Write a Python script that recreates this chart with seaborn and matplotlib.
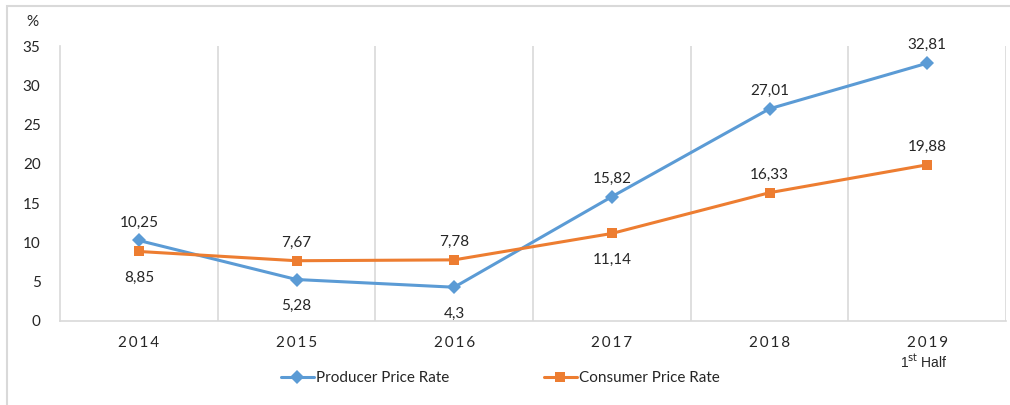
import matplotlib
matplotlib.use("Agg")
import matplotlib.pyplot as plt
import seaborn as sns
import pandas as pd
from matplotlib.patches import Rectangle
from matplotlib.lines import Line2D

years = ["2014", "2015", "2016", "2017", "2018", "2019"]
producer = [10.25, 5.28, 4.3, 15.82, 27.01, 32.81]
consumer = [8.85, 7.67, 7.78, 11.14, 16.33, 19.88]
producer_labels = ["10,25", "5,28", "4,3", "15,82", "27,01", "32,81"]
consumer_labels = ["8,85", "7,67", "7,78", "11,14", "16,33", "19,88"]
producer_pos = ["above", "below", "below", "above", "above", "above"]
consumer_pos = ["below", "above", "above", "below", "above", "above"]
yticks = [0, 5, 10, 15, 20, 25, 30, 35]
series_names = ["Producer Price Rate", "Consumer Price Rate"]

sns.set_theme(style="white")
plt.rcParams['font.family'] = ['Lato', 'DejaVu Sans']

BLUE = "#5B9BD5"
ORANGE = "#ED7D31"
GRID = "#D9D9D9"
TXT = "#262626"

fig = plt.figure(figsize=(10.10, 4.05), dpi=100)
ax = fig.add_axes([60/1010, 1-321/405, (1006-60)/1010, (321-46)/405])

df = pd.DataFrame({
    "x": list(range(len(years))) * 2,
    "value": producer + consumer,
    "series": [series_names[0]] * len(years) + [series_names[1]] * len(years),
})

sns.lineplot(data=df, x="x", y="value", hue="series", style="series",
             palette={series_names[0]: BLUE, series_names[1]: ORANGE},
             markers={series_names[0]: "D", series_names[1]: "s"},
             dashes=False, linewidth=2.2, markersize=7, markeredgewidth=0,
             ax=ax, legend=False)

ax.set_xlim(-0.5, len(years) - 0.5)
ax.set_ylim(0, 35)
ax.set_yticks(yticks)
ax.set_yticklabels([str(v) for v in yticks], fontsize=11, color=TXT)
ax.set_xticks(range(len(years)))
ax.set_xticklabels(["\u2009".join(y) for y in years], fontsize=11, color=TXT)
ax.tick_params(axis="both", length=0)
ax.tick_params(axis="y", pad=14)
ax.tick_params(axis="x", pad=11)
ax.set_xlabel("")
ax.set_ylabel("")

for b in [i + 0.5 for i in range(len(years))]:
    ax.axvline(b, color=GRID, lw=1.2, zorder=0)
for s in ["top", "right"]:
    ax.spines[s].set_visible(False)
for s in ["left", "bottom"]:
    ax.spines[s].set_color(GRID)
    ax.spines[s].set_linewidth(1.2)

for i in range(len(years)):
    dy = 13 if producer_pos[i] == "above" else -19
    ax.annotate(producer_labels[i], (i, producer[i]), xytext=(0, dy),
                textcoords="offset points", ha="center", va="center",
                fontsize=11, color=TXT)
    dy = 13 if consumer_pos[i] == "above" else -19
    ax.annotate(consumer_labels[i], (i, consumer[i]), xytext=(0, dy),
                textcoords="offset points", ha="center", va="center",
                fontsize=11, color=TXT)

fig.text(32/1010, 1-22/405, "%", fontsize=11, color=TXT, ha="center", va="center")
fig.text(924/1010, 1-362/405, r"1$^{\mathrm{st}}$ Half", fontsize=10, color=TXT,
         ha="center", va="center", family=["Liberation Sans", "DejaVu Sans"])

handles = [Line2D([], [], color=BLUE, marker="D", lw=2.2, markersize=7, markeredgewidth=0),
           Line2D([], [], color=ORANGE, marker="s", lw=2.2, markersize=7, markeredgewidth=0)]
fig.legend(handles, series_names, loc="center", bbox_to_anchor=(500/1010, 1-378/405),
           ncol=2, frameon=False, fontsize=11, columnspacing=6.2, handlelength=2.2,
           handletextpad=0.1)

fig.patches.append(Rectangle((7/1010, -0.1), 1.2, 1 - 6/405 + 0.1, transform=fig.transFigure,
                             fill=False, edgecolor=GRID, lw=1.5))

fig.savefig("out.png", dpi=100)
